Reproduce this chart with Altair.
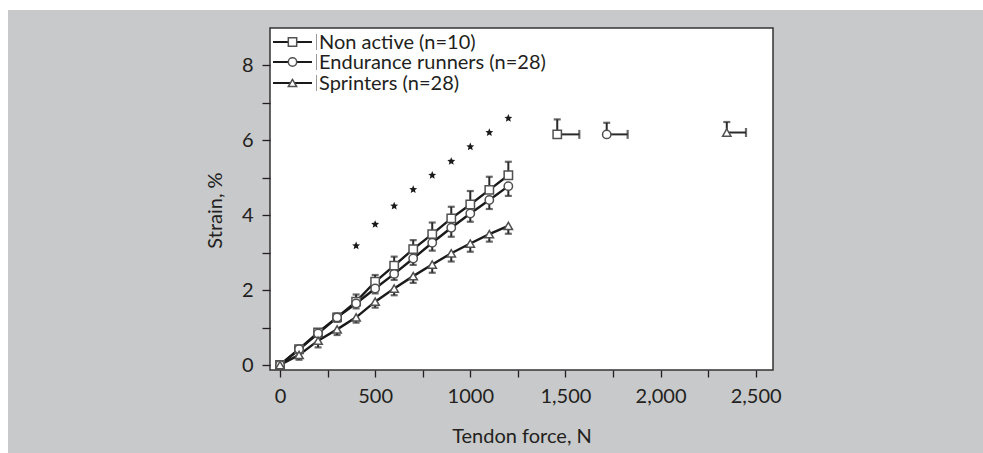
import math
import altair as alt
import pandas as pd

# ---------------- data ----------------
force = [0, 100, 200, 300, 400, 500, 600, 700, 800, 900, 1000, 1100, 1200]
groups = ["Non active (n=10)", "Endurance runners (n=28)", "Sprinters (n=28)"]

nonactive = [0, 0.42, 0.87, 1.27, 1.69, 2.22, 2.65, 3.09, 3.49, 3.91, 4.28, 4.67, 5.06]
nonactive_sd = [0, 0.03, 0.06, 0.10, 0.19, 0.18, 0.24, 0.24, 0.31, 0.31, 0.36, 0.35, 0.36]
endurance = [0, 0.42, 0.84, 1.27, 1.64, 2.04, 2.43, 2.84, 3.26, 3.66, 4.04, 4.40, 4.77]
endurance_sd = [0, 0.06, 0.08, 0.12, 0.13, 0.13, 0.16, 0.17, 0.21, 0.24, 0.22, 0.24, 0.26]
sprinters = [0, 0.27, 0.65, 0.95, 1.27, 1.69, 2.04, 2.37, 2.68, 2.98, 3.24, 3.49, 3.71]
sprinters_sd = [0, 0.13, 0.18, 0.15, 0.14, 0.16, 0.18, 0.18, 0.22, 0.22, 0.22, 0.20, 0.21]

star_force = [400, 500, 600, 700, 800, 900, 1000, 1100, 1200]
star_strain = [3.18, 3.75, 4.24, 4.68, 5.06, 5.43, 5.82, 6.20, 6.58]

max_force = [1457, 1717, 2348]
max_force_sd = [116, 110, 101]
max_strain = [6.15, 6.15, 6.20]
max_strain_sd = [0.40, 0.31, 0.28]

x_ticks = [0, 250, 500, 750, 1000, 1250, 1500, 1750, 2000, 2250, 2500]
y_ticks = [0, 1, 2, 3, 4, 5, 6, 7, 8]

# ---------------- tables ----------------
err_dir = {groups[0]: 1, groups[1]: -1, groups[2]: -1}
rows = []
for g, means, sds in zip(groups, [nonactive, endurance, sprinters],
                         [nonactive_sd, endurance_sd, sprinters_sd]):
    for f, m, s in zip(force, means, sds):
        rows.append(dict(group=g, force=f, strain=m, sd=s, cap=m + err_dir[g] * s))
df = pd.DataFrame(rows)
df_err = df[df.sd > 0]

df_star = pd.DataFrame(dict(force=star_force, strain=star_strain))
df_max = pd.DataFrame(dict(group=groups, force=max_force, strain=max_strain,
                           fcap=[f + s for f, s in zip(max_force, max_force_sd)],
                           scap=[m + s for m, s in zip(max_strain, max_strain_sd)]))

# ---------------- styling ----------------
W, H = 503, 342
PL, PT, PR, PB = 270, 28, 210, 83
FONT = "Lato"
TXT = "#231f20"
GRAY_BG = "#c8c9cb"
LINE = "#1a1a1a"
BAR = "#2a2a2a"
MARK_STROKE = "#505050"
FS = 20
SHAPE_LIST = ["square", "circle", "triangle-up"]

xscale = alt.Scale(domain=[-52.6, 2590.9], nice=False, zero=False)
yscale = alt.Scale(domain=[-0.133, 8.987], nice=False, zero=False)

xaxis = alt.Axis(values=x_ticks,
                 labelExpr="datum.value % 500 != 0 ? '' : (datum.value >= 1500 ? format(datum.value, ',') : format(datum.value, 'd'))",
                 title="Tendon force, N", grid=False, domain=False,
                 tickSize=7, tickWidth=1.3, tickColor=TXT,
                 labelFont=FONT, labelFontSize=FS, labelColor=TXT, labelPadding=9,
                 titleFont=FONT, titleFontSize=FS, titleFontWeight="normal",
                 titleColor=TXT, titlePadding=20, zindex=1)
yaxis = alt.Axis(values=y_ticks,
                 labelExpr="datum.value % 2 == 0 ? format(datum.value, 'd') : ''",
                 title="Strain, %", grid=False, domain=False,
                 tickSize=8, tickWidth=1.3, tickColor=TXT,
                 labelFont=FONT, labelFontSize=FS, labelColor=TXT, labelPadding=9,
                 titleFont=FONT, titleFontSize=FS, titleFontWeight="normal",
                 titleColor=TXT, titlePadding=16, titleY=182, zindex=1)


def X(field="force"):
    return alt.X(f"{field}:Q", scale=xscale, axis=xaxis)


def Y(field="strain"):
    return alt.Y(f"{field}:Q", scale=yscale, axis=yaxis)


# star symbol
pts = []
for i in range(10):
    a = math.radians(-90 + 36 * i)
    r = 1.0 if i % 2 == 0 else 0.45
    pts.append(f"{r * math.cos(a):.3f},{r * math.sin(a):.3f}")
STAR = "M" + "L".join(pts) + "Z"

one = alt.Data(values=[{"k": 1}])

bg = alt.Chart(one).mark_rect(color=GRAY_BG).encode(
    x=alt.value(-(PL - 8)), x2=alt.value(W + PR),
    y=alt.value(-(PT - 10)), y2=alt.value(H + PB))
plot_bg = alt.Chart(one).mark_rect(fill="white", stroke="#333333", strokeWidth=1.5).encode(
    x=alt.value(0), x2=alt.value(W), y=alt.value(0), y2=alt.value(H))

base = alt.Chart(df)
lines = base.mark_line(color=LINE, strokeWidth=2.4).encode(
    x=X(), y=Y(), detail="group:N")

err_rules = alt.Chart(df_err).mark_rule(color=BAR, strokeWidth=2).encode(
    x=X(), y=Y(), y2="cap:Q")
err_caps = alt.Chart(df_err).mark_tick(color=BAR, orient="horizontal",
                                       size=7, thickness=2.2).encode(x=X(), y=Y("cap"))

SHAPES = alt.Scale(domain=groups, range=SHAPE_LIST)

points = base.mark_point(filled=True, fill="white", stroke=MARK_STROKE,
                         strokeWidth=1.5, size=70, opacity=1).encode(
    x=X(), y=Y(), shape=alt.Shape("group:N", scale=SHAPES, legend=None))

stars = alt.Chart(df_star).mark_point(shape=STAR, filled=True, color=LINE,
                                      size=70, opacity=1).encode(x=X(), y=Y())

max_vrule = alt.Chart(df_max).mark_rule(color=BAR, strokeWidth=2).encode(
    x=X(), y=Y(), y2="scap:Q")
max_vcap = alt.Chart(df_max).mark_tick(color=BAR, orient="horizontal",
                                       size=7, thickness=2.2).encode(x=X(), y=Y("scap"))
max_hrule = alt.Chart(df_max).mark_rule(color=BAR, strokeWidth=2).encode(
    x=X(), x2="fcap:Q", y=Y())
max_hcap = alt.Chart(df_max).mark_tick(color=BAR, orient="vertical",
                                       size=9, thickness=2.2).encode(x=X("fcap"), y=Y())
max_points = alt.Chart(df_max).mark_point(filled=True, fill="white", stroke=MARK_STROKE,
                                          strokeWidth=1.5, size=70, opacity=1).encode(
    x=X(), y=Y(), shape=alt.Shape("group:N", scale=SHAPES, legend=None))

# ---------------- legend (drawn as decoration inside the plot) ----------------
legend_layers = []
LEG_ROWS = [14, 34, 55]
for g, shp, yv in zip(groups, SHAPE_LIST, LEG_ROWS):
    legend_layers.append(alt.Chart(one).mark_rule(color=LINE, strokeWidth=2.2).encode(
        x=alt.value(3), x2=alt.value(42), y=alt.value(yv)))
    legend_layers.append(alt.Chart(one).mark_point(shape=shp, filled=True, fill="white",
                                                   stroke=MARK_STROKE, strokeWidth=1.5,
                                                   size=70, opacity=1).encode(
        x=alt.value(22.5), y=alt.value(yv)))
    legend_layers.append(alt.Chart(one).mark_rule(color="#9a9a9a", strokeWidth=1).encode(
        x=alt.value(46.5), y=alt.value(yv - 8), y2=alt.value(yv + 8)))
    legend_layers.append(alt.Chart(pd.DataFrame({"label": [g]})).mark_text(
        align="left", baseline="middle", font=FONT, fontSize=FS, color=TXT).encode(
        text="label:N", x=alt.value(49), y=alt.value(yv + 1)))

chart = alt.layer(
    bg, plot_bg, lines, err_rules, err_caps, points, stars,
    max_vrule, max_vcap, max_hrule, max_hcap, max_points, *legend_layers
).properties(
    width=W, height=H,
    autosize=alt.AutoSizeParams(type="none"),
    padding={"left": PL, "top": PT, "right": PR, "bottom": PB},
).configure(background="white").configure_view(stroke="transparent")

chart.save("out.html", embed_options={"renderer": "svg", "actions": False})
